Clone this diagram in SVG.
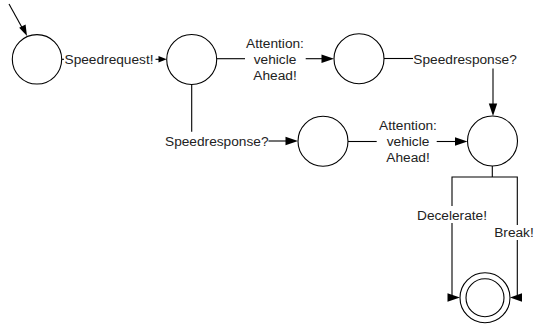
<svg xmlns="http://www.w3.org/2000/svg" width="534" height="324" viewBox="0 0 534 324">
<style>
.st{fill:#fff;stroke:#000;stroke-width:1.1}
.ln{fill:none;stroke:#000;stroke-width:1.1}
.hd{fill:#000;stroke:none}
text{font-family:"Liberation Sans",Arial,sans-serif;font-size:13.7px;fill:#222}
.m{text-anchor:middle}
</style>
<rect width="534" height="324" fill="#fff"/>
<g id="connectors">
  <!-- initial -->
  <line class="ln" x1="9" y1="4" x2="22" y2="27.5"/>
  <polygon class="hd" points="27,36 19.2,27.8 25.6,24.4"/>
  <!-- c1 -> c2 -->
  <line class="ln" x1="61.7" y1="59.3" x2="64" y2="59.3"/>
  <text x="64.5" y="64">Speedrequest!</text>
  <line class="ln" x1="155.5" y1="59.3" x2="159" y2="59.3"/>
  <polygon class="hd" points="166.7,59.3 158.5,56 158.5,62.6"/>
  <!-- c2 -> c3 -->
  <line class="ln" x1="216.7" y1="58.7" x2="245" y2="58.7"/>
  <text class="m" x="275" y="47.5">Attention:</text>
  <text class="m" x="275" y="63.5">vehicle</text>
  <text class="m" x="275" y="79.8">Ahead!</text>
  <line class="ln" x1="305.7" y1="58.7" x2="323" y2="58.7"/>
  <polygon class="hd" points="334,58.7 321.5,54.5 321.5,62.9"/>
  <!-- c3 -> c5 -->
  <line class="ln" x1="384" y1="58.5" x2="413" y2="58.5"/>
  <text x="413.3" y="63.5">Speedresponse?</text>
  <line class="ln" x1="493" y1="68.5" x2="493" y2="105"/>
  <polygon class="hd" points="493,116 488.8,103.5 497.2,103.5"/>
  <!-- c2 -> c4 -->
  <line class="ln" x1="191.7" y1="84.5" x2="191.7" y2="131.7"/>
  <text x="165" y="145.7">Speedresponse?</text>
  <line class="ln" x1="268.5" y1="141" x2="287" y2="141"/>
  <polygon class="hd" points="298,141 285.5,136.8 285.5,145.2"/>
  <!-- c4 -> c5 -->
  <line class="ln" x1="348" y1="141.5" x2="376.7" y2="141.5"/>
  <text class="m" x="408" y="129.6">Attention:</text>
  <text class="m" x="408" y="145.7">vehicle</text>
  <text class="m" x="408" y="161.8">Ahead!</text>
  <line class="ln" x1="436.7" y1="141.5" x2="456" y2="141.5"/>
  <polygon class="hd" points="467.5,141.5 455,137.3 455,145.7"/>
  <!-- c5 -> final -->
  <polyline class="ln" points="492.3,166 492.3,177"/>
  <polyline class="ln" points="452,206 452,177 517.3,177 517.3,225"/>
  <text class="m" x="452" y="219.5">Decelerate!</text>
  <polyline class="ln" points="452,223 452,297.5 449,297.5"/>
  <polygon class="hd" points="460,297.5 447.5,293.3 447.5,301.7"/>
  <text x="494.2" y="236.8">Break!</text>
  <line class="ln" x1="517.3" y1="240" x2="517.3" y2="297.5"/>
  <polygon class="hd" points="510,297.5 522,293.3 522,301.7"/>
</g>
<g id="s1"><circle class="st" cx="37" cy="59.3" r="24.7"/></g>
<g id="s2"><circle class="st" cx="191.7" cy="59.5" r="25"/></g>
<g id="s3"><circle class="st" cx="359" cy="58.7" r="25"/></g>
<g id="s4"><circle class="st" cx="323" cy="141.3" r="25"/></g>
<g id="s5"><circle class="st" cx="492.5" cy="141" r="25"/></g>
<g id="final"><circle class="st" cx="485" cy="297.7" r="25"/><circle class="st" cx="485" cy="297.7" r="19"/></g>
</svg>
